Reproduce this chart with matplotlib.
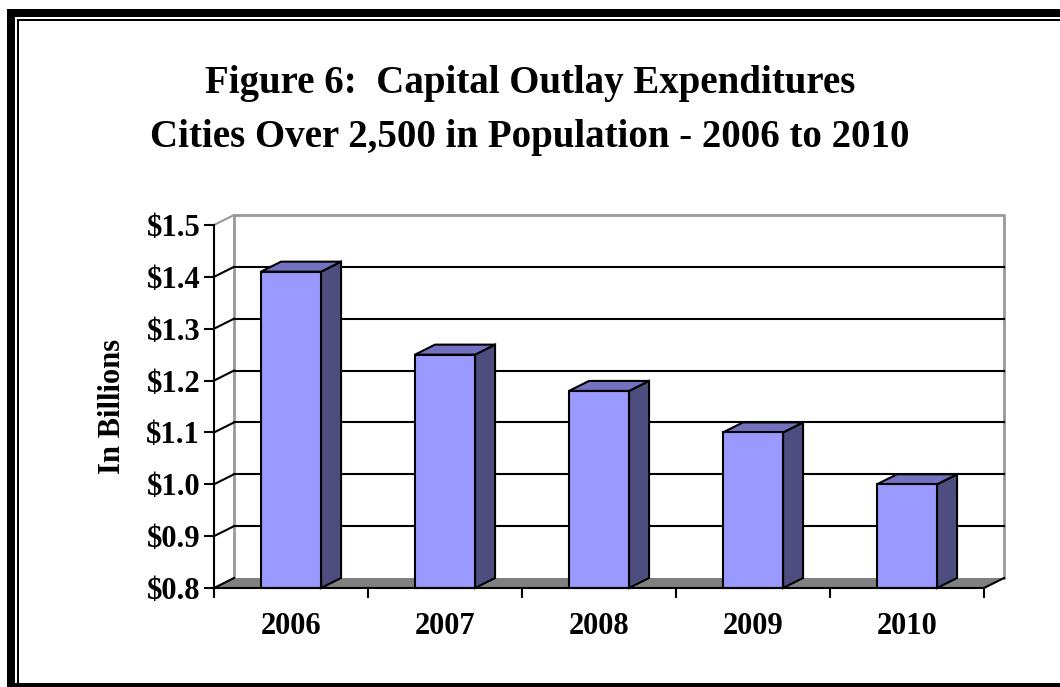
import numpy as np
import matplotlib.pyplot as plt
from matplotlib.patches import Polygon, Rectangle

# datos
years = ['2006', '2007', '2008', '2009', '2010']
outlay = [1.41, 1.25, 1.18, 1.10, 1.00]   # billions
y_ticks = [0.8, 0.9, 1.0, 1.1, 1.2, 1.3, 1.4, 1.5]
y_labels = ['$0.8', '$0.9', '$1.0', '$1.1', '$1.2', '$1.3', '$1.4', '$1.5']

plt.rcParams['font.family'] = ['Liberation Serif', 'DejaVu Serif']
plt.rcParams['font.weight'] = 'bold'

fig = plt.figure(figsize=(10.6, 6.87), dpi=100)
ax = fig.add_axes([0.2019, 0.1441, 0.7264, 0.5284])

ymin, ymax = y_ticks[0], y_ticks[-1]
n = len(years)
ax.set_xlim(0, n)
ax.set_ylim(ymin, ymax)

# profundidad del efecto 3d (en unidades de datos)
DX = 0.13
DY = 0.0193
wall = '#999999'

# pared del fondo
ax.plot([DX, DX, n + DX, n + DX], [ymin + DY, ymax + DY, ymax + DY, ymin + DY],
        color=wall, lw=2, clip_on=False, zorder=1)
for v in y_ticks[1:-1]:
    ax.plot([DX, n + DX], [v + DY, v + DY], color='black', lw=1.5, clip_on=False, zorder=1)
for v in y_ticks:
    c = wall if v == ymax else 'black'
    ax.plot([0, DX], [v, v + DY], color=c, lw=1.5, clip_on=False, zorder=4)

# piso
floor = Polygon([(0, ymin), (n, ymin), (n + DX, ymin + DY), (DX, ymin + DY)],
                closed=True, facecolor='#808080', edgecolor='none', clip_on=False, zorder=2)
ax.add_patch(floor)
ax.plot([n, n + DX], [ymin, ymin + DY], color='black', lw=1.5, clip_on=False, zorder=4)

# barras
w = 0.195
for i, v in enumerate(outlay):
    c = i + 0.5
    front = [(c - w, ymin), (c + w, ymin), (c + w, v), (c - w, v)]
    top = [(c - w, v), (c + w, v), (c + w + DX, v + DY), (c - w + DX, v + DY)]
    side = [(c + w, ymin), (c + w + DX, ymin + DY), (c + w + DX, v + DY), (c + w, v)]
    for pts, col in [(side, '#4D4D80'), (top, '#7272C0'), (front, '#9999FF')]:
        ax.add_patch(Polygon(pts, closed=True, facecolor=col, edgecolor='black',
                             lw=1.5, joinstyle='miter', clip_on=False, zorder=3))

# ejes
for s in ['top', 'right']:
    ax.spines[s].set_visible(False)
for s in ['left', 'bottom']:
    ax.spines[s].set_linewidth(1.5)
    ax.spines[s].set_zorder(5)
ax.set_yticks(y_ticks)
ax.set_yticklabels(y_labels, fontsize=22, fontweight='bold')
ax.set_xticks(np.arange(n + 1))
ax.set_xticklabels([])
ax.set_xticks(np.arange(n) + 0.5, minor=True)
ax.set_xticklabels(years, minor=True, fontsize=22, fontweight='bold')
ax.tick_params(axis='y', length=7, width=1.5, pad=3)
ax.tick_params(axis='x', which='major', length=7, width=1.5)
ax.tick_params(axis='x', which='minor', length=0, pad=17)
ax.set_facecolor('none')
ax.set_ylabel('In Billions', fontsize=22, fontweight='bold', labelpad=14)

fig.text(0.5, 1 - 84 / 687, 'Figure 6:  Capital Outlay Expenditures',
         ha='center', va='center', fontsize=28, fontweight='bold')
fig.text(0.5, 1 - 137 / 687, 'Cities Over 2,500 in Population - 2006 to 2010',
         ha='center', va='center', fontsize=28, fontweight='bold')

# marco
W, H = 1060, 687
def px_rect(x0, y0, x1, y1):
    fig.add_artist(Rectangle((x0 / W, 1 - y1 / H), (x1 - x0) / W, (y1 - y0) / H,
                             transform=fig.transFigure, facecolor='black', edgecolor='none'))
px_rect(7, 9, 15, 687)
px_rect(7, 9, 1060, 17)
px_rect(17, 19, 19, 687)
px_rect(17, 19, 1060, 21)
px_rect(7, 683, 1060, 687)

fig.savefig('out.png', dpi=100)
